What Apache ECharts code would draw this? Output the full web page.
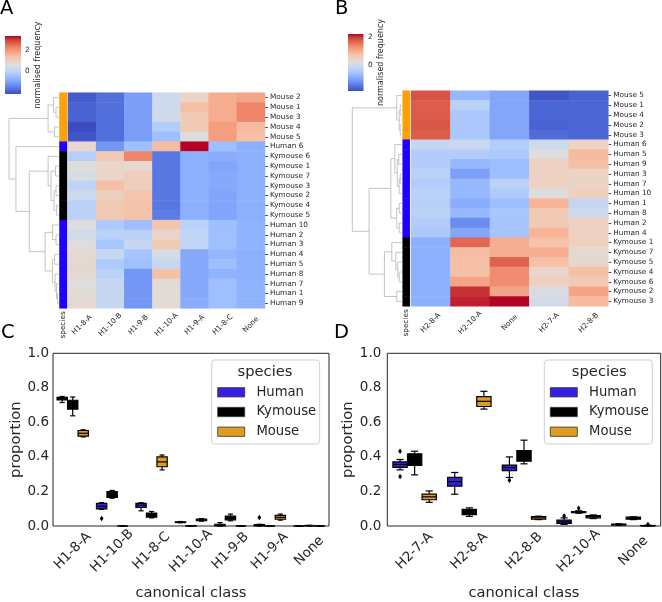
<!DOCTYPE html>
<html><head><meta charset="utf-8">
<script src="https://cdn.jsdelivr.net/npm/echarts@6/dist/echarts.min.js"></script>
<style>html,body{margin:0;padding:0;background:#fff}#c{width:662px;height:602px}</style>
</head><body><div id="c"></div>
<script>
// ---------------- DATA ----------------
const colsA = ["H1-8-A","H1-10-B","H1-9-B","H1-10-A","H1-9-A","H1-8-C","None"];
const rowsA = ["Mouse 2","Mouse 1","Mouse 3","Mouse 4","Mouse 5","Human 6","Kymouse 6","Kymouse 1","Kymouse 7","Kymouse 3","Kymouse 2","Kymouse 4","Kymouse 5","Human 10","Human 2","Human 3","Human 4","Human 5","Human 8","Human 7","Human 1","Human 9"];
const valuesA = [
  [-2.02,-1.75,-1.09, 0.24, 0.90, 1.67, 1.78],
  [-1.91,-1.75,-1.09, 0.24, 1.34, 1.67, 2.23],
  [-1.91,-1.75,-1.09, 0.29, 1.12, 1.67, 2.23],
  [-2.19,-1.75,-1.09,-0.20, 1.12, 1.89, 1.45],
  [-2.08,-1.75,-1.09,-0.53, 0.57, 1.89, 1.34],
  [ 0.79,-1.20,-0.53, 1.40, 3.33,-0.53,-0.81],
  [-0.15, 1.12, 2.23,-1.64,-0.81,-0.87,-0.81],
  [ 0.57, 0.85, 0.74,-1.64,-0.81,-0.98,-0.81],
  [ 0.46, 0.85, 1.01,-1.64,-0.81,-0.92,-0.81],
  [ 0.02, 1.34, 1.01,-1.64,-0.81,-0.92,-0.81],
  [ 0.24, 1.01, 1.23,-1.64,-0.81,-0.98,-0.81],
  [-0.09, 1.12, 1.29,-1.64,-0.81,-0.98,-0.81],
  [-0.09, 1.12, 1.29,-1.58,-0.81,-0.98,-0.81],
  [ 0.57,-0.26,-0.53, 1.23,-0.09,-0.53,-0.76],
  [ 0.35,-0.09,-0.09, 0.85, 0.02,-0.53,-0.76],
  [ 0.57,-0.37, 0.13, 1.12, 0.02,-0.53,-0.76],
  [ 0.74, 0.13,-0.42, 0.40,-0.92,-0.70,-0.81],
  [ 0.74,-0.26,-0.53, 0.13,-0.92,-0.53,-0.81],
  [ 0.74,-0.09,-1.20, 1.34,-0.92,-0.76,-0.81],
  [ 0.57, 0.13,-1.20, 0.68,-0.92,-0.53,-0.76],
  [ 0.68, 0.13,-1.20, 0.68,-0.92,-0.53,-0.76],
  [ 0.74, 0.13,-1.20, 0.68,-0.87,-0.53,-0.76]
];
const rangeA = [-2.19, 3.33];
const treeA = [
  [["Mouse 2", ["Mouse 1", "Mouse 3", 0.05], 0.10], ["Mouse 4", "Mouse 5", 0.08], 0.21],
  ["Human 6",
    [
      ["Kymouse 6", [["Kymouse 1", "Kymouse 7", 0.06], [["Kymouse 3", "Kymouse 2", 0.05], ["Kymouse 4", "Kymouse 5", 0.04], 0.09], 0.15], 0.21],
      [["Human 10", ["Human 2", "Human 3", 0.05], 0.12], [["Human 4", "Human 5", 0.08], ["Human 8", ["Human 7", ["Human 1", "Human 9", 0.02], 0.04], 0.07], 0.12], 0.27],
      0.59],
    0.86],
  1.0];

const colsB = ["H2-8-A","H2-10-A","None","H2-7-A","H2-8-B"];
const rowsB = ["Mouse 5","Mouse 1","Mouse 4","Mouse 2","Mouse 3","Human 6","Human 5","Human 9","Human 3","Human 7","Human 10","Human 1","Human 8","Human 2","Human 4","Kymouse 1","Kymouse 7","Kymouse 5","Kymouse 4","Kymouse 6","Kymouse 2","Kymouse 3"];
const valuesB = [
  [ 1.83,-0.70,-0.94,-1.76,-1.64],
  [ 1.75,-0.29,-0.94,-1.60,-1.60],
  [ 1.75,-0.45,-0.94,-1.60,-1.60],
  [ 1.79,-0.45,-0.94,-1.64,-1.60],
  [ 1.75,-0.45,-0.94,-1.55,-1.60],
  [-0.13,-0.09,-0.37,-0.04, 0.44],
  [-0.37,-0.37,-0.45, 0.20, 0.85],
  [-0.37,-0.70,-0.62, 0.49, 0.77],
  [-0.29,-1.02,-0.62, 0.49, 0.44],
  [-0.37,-0.70,-0.29, 0.49, 0.44],
  [-0.29,-0.70,-0.41, 0.20, 0.53],
  [-0.33,-0.86,-0.62, 0.93,-0.13],
  [-0.29,-0.70,-0.49, 0.61,-0.04],
  [-0.37,-1.23,-0.53, 0.61, 0.49],
  [-0.45,-0.94,-0.53, 0.93, 0.49],
  [-0.82, 1.67, 1.02, 0.73, 0.53],
  [-0.82, 0.81, 1.02, 1.02, 0.32],
  [-0.82, 0.77, 1.71, 0.77, 0.36],
  [-0.82, 0.77, 1.34, 0.40, 0.77],
  [-0.82, 1.10, 1.34, 0.53, 0.61],
  [-0.82, 2.04, 1.10, 0.12, 1.10],
  [-0.82, 2.12, 2.24, 0.04, 0.85]
];
const rangeB = [-1.84, 2.24];
const treeB = [
  ["Mouse 5", [["Mouse 1", "Mouse 4", 0.03], ["Mouse 2", "Mouse 3", 0.03], 0.05], 0.10],
  [
    [["Human 6", [["Human 5", "Human 9", 0.06], [["Human 3", "Human 7", 0.03], "Human 10", 0.05], 0.09], 0.14],
     [["Human 1", "Human 8", 0.05], ["Human 2", "Human 4", 0.05], 0.10], 0.22],
    [["Kymouse 1", ["Kymouse 7", ["Kymouse 5", ["Kymouse 4", "Kymouse 6", 0.05], 0.08], 0.12], 0.20], ["Kymouse 2", "Kymouse 3", 0.10], 0.35],
    0.66],
  1.0];

const speciesNames = ["Human","Kymouse","Mouse"];
const colorbarTicks = [0, 2];

// box stats: [min, q1, median, q3, max]
const catsC = ["H1-8-A","H1-10-B","H1-8-C","H1-10-A","H1-9-B","H1-9-A","None"];
const humanC = [[0.715,0.730,0.738,0.745,0.750],[0.096,0.099,0.114,0.131,0.135],[0.088,0.107,0.120,0.131,0.135],[0.019,0.020,0.022,0.024,0.026],[0.000,0.001,0.004,0.010,0.020],[0.000,0.001,0.003,0.008,0.010],[0,0,0,0,0]];
const kymouseC = [[0.638,0.677,0.700,0.728,0.747],[0.161,0.165,0.182,0.199,0.206],[0.047,0.051,0.062,0.075,0.084],[0,0,0.001,0.001,0.002],[0.030,0.036,0.047,0.058,0.069],[0,0,0,0,0],[0,0.001,0.002,0.003,0.004]];
const mouseC = [[0.516,0.520,0.537,0.553,0.557],[0,0,0,0,0],[0.325,0.343,0.371,0.400,0.411],[0.028,0.031,0.036,0.040,0.043],[0,0,0,0,0],[0.034,0.039,0.050,0.062,0.069],[0,0,0,0,0]];
const outliersC = [["H1-10-B","Human",0.043],["H1-9-A","Human",0.049]];

const catsD = ["H2-7-A","H2-8-A","H2-8-B","H2-10-A","None"];
const humanD = [[0.325,0.340,0.356,0.371,0.385],[0.184,0.231,0.257,0.281,0.310],[0.281,0.321,0.338,0.353,0.400],[0.009,0.015,0.024,0.034,0.047],[0.004,0.006,0.008,0.011,0.013]];
const kymouseD = [[0.296,0.351,0.385,0.418,0.433],[0.056,0.066,0.081,0.096,0.105],[0.360,0.375,0.400,0.437,0.497],[0.074,0.077,0.080,0.084,0.088],[0.037,0.039,0.045,0.051,0.053]];
const mouseD = [[0.137,0.152,0.169,0.184,0.203],[0.677,0.692,0.722,0.749,0.780],[0.037,0.039,0.047,0.054,0.057],[0.043,0.047,0.054,0.060,0.064],[0,0.001,0.002,0.003,0.004]];
const outliersD = [["H2-7-A","Human",0.433],["H2-7-A","Human",0.287],["H2-8-B","Human",0.265],["H2-10-A","Human",0.058],["H2-10-A","Kymouse",0.103],["None","Mouse",0.009]];

// ---------------- STYLE ----------------
const FONT = 'DejaVu Sans';
const TXT = '#262626';
const coolwarm = ['#3b4cc0','#4d68d7','#6282ea','#779af7','#8db0fe','#a3c2ff','#b8d0f9','#ccd9ee','#dddddd','#ecd3c5','#f5c4ac','#f7b194','#f49a7b','#ec7f63','#de604d','#cb3e38','#b40426'];
const speciesColor = ['#1e00ff','#000000','#ffa000'];
const boxFill = ['#3620df','#000000','#df9c20'];

const speciesIdx = r => speciesNames.findIndex(s => r.startsWith(s));

function dendroLines(tree, rows) {
  const idx = {}; rows.forEach((r,i)=>idx[r]=i);
  const out = [];
  (function walk(n){
    if (typeof n === 'string') return {y: idx[n], h: 0};
    const a = walk(n[0]), b = walk(n[1]), h = n[2];
    out.push({coords: [[a.h, a.y],[h, a.y],[h, b.y],[b.h, b.y]]});
    return {y: (a.y + b.y)/2, h};
  })(tree);
  return out;
}
function heatData(values){ const d=[]; values.forEach((row,r)=>row.forEach((v,c)=>d.push([c,r,v]))); return d; }
function colorbarSeries(gi, range){
  const stops = coolwarm.map((c,i)=>({offset:i/(coolwarm.length-1), color:c}));
  return {type:'custom', xAxisIndex:gi, yAxisIndex:gi, silent:true, data:[[0, range[0], 1, range[1]]],
    renderItem(p, api){
      const a = api.coord([api.value(0), api.value(3)]);
      const b = api.coord([api.value(2), api.value(1)]);
      return {type:'rect', shape:{x:a[0], y:a[1], width:b[0]-a[0], height:b[1]-a[1]},
        style:{fill:new echarts.graphic.LinearGradient(0,1,0,0,stops)}};
    }};
}
function boxSeries(hue, stats, gi){
  return {type:'custom', name:speciesNames[hue], xAxisIndex:gi, yAxisIndex:gi, silent:true,
    itemStyle:{color:boxFill[hue], borderColor:'#000'},
    data: stats.map((s,i)=>[i].concat(s)), encode:{x:0, y:[1,2,3,4,5]},
    renderItem(p, api){
      const i = api.value(0);
      const band = api.size([1,0],[i,0])[0];
      const step = band*0.8/3;
      const cx = api.coord([i,0])[0] + (hue-1)*step;
      const hw = step*0.98/2;
      const y = k => api.coord([i, api.value(k)])[1];
      const mn=y(1), q1=y(2), md=y(3), q3=y(4), mx=y(5);
      const ln = {stroke:'#000', lineWidth:1.2};
      return {type:'group', children:[
        {type:'line', shape:{x1:cx,y1:q1,x2:cx,y2:mn}, style:ln},
        {type:'line', shape:{x1:cx,y1:q3,x2:cx,y2:mx}, style:ln},
        {type:'line', shape:{x1:cx-hw/2,y1:mn,x2:cx+hw/2,y2:mn}, style:ln},
        {type:'line', shape:{x1:cx-hw/2,y1:mx,x2:cx+hw/2,y2:mx}, style:ln},
        {type:'rect', shape:{x:cx-hw,y:q3,width:2*hw,height:q1-q3}, style:{fill:boxFill[hue], stroke:'#000', lineWidth:1.2}},
        {type:'line', shape:{x1:cx-hw,y1:md,x2:cx+hw,y2:md}, style:ln}
      ]};
    }};
}
function outlierSeries(list, cats, gi){
  return {type:'custom', name:'outliers', xAxisIndex:gi, yAxisIndex:gi, silent:true,
    data: list.map(o=>[cats.indexOf(o[0]), speciesNames.indexOf(o[1]), o[2]]), encode:{x:0, y:2},
    renderItem(p, api){
      const i = api.value(0), h = api.value(1);
      const band = api.size([1,0],[i,0])[0];
      const cx = api.coord([i,0])[0] + (h-1)*band*0.8/3;
      const cy = api.coord([i, api.value(2)])[1];
      return {type:'polygon', shape:{points:[[cx,cy-2.8],[cx+1.9,cy],[cx,cy+2.8],[cx-1.9,cy]]}, style:{fill:'#000'}};
    }};
}

// ---------------- LAYOUT ----------------
const H = 215.6;
const grids = [
  {left:9, top:92.7, width:49.5, height:H},      // 0 dendro A
  {left:59.5, top:92.7, width:7.5, height:H},    // 1 species A
  {left:68, top:92.7, width:197, height:H},      // 2 heat A
  {left:5, top:36, width:16, height:58},         // 3 cbar A
  {left:352.3, top:90.7, width:49.4, height:H},  // 4 dendro B
  {left:402.7, top:90.7, width:7, height:H},     // 5 species B
  {left:411, top:90.7, width:197.3, height:H},   // 6 heat B
  {left:348, top:34, width:15.5, height:57},     // 7 cbar B
  {left:53, top:353.3, width:276, height:177.7, show:true, borderColor:TXT, borderWidth:1},   // 8 box C
  {left:387.3, top:353.3, width:273.4, height:177.7, show:true, borderColor:TXT, borderWidth:1} // 9 box D
];
const smallLbl = {fontSize:7.3, color:TXT, fontFamily:FONT};
const hidden = (gi, extra) => Object.assign({gridIndex:gi, show:false}, extra);
function heatX(gi, cols){ return {gridIndex:gi, type:'category', data:cols, axisLine:{show:false}, axisTick:{show:false},
  axisLabel:Object.assign({rotate:45, align:'center', verticalAlign:'middle', margin:16.5, interval:0}, smallLbl)}; }
function heatY(gi, rows){ return {gridIndex:gi, type:'category', data:rows, inverse:true, position:'right',
  axisLine:{show:false}, axisTick:{show:true, alignWithLabel:true, length:3, lineStyle:{color:TXT, width:0.8}},
  axisLabel:Object.assign({margin:5, interval:0}, smallLbl)}; }
function speciesX(gi){ return {gridIndex:gi, type:'category', data:['species'], axisLine:{show:false}, axisTick:{show:false},
  axisLabel:Object.assign({rotate:90, margin:3}, smallLbl)}; }
function cbarY(gi, range, margin){ return {gridIndex:gi, type:'value', min:range[0], max:range[1], position:'right',
  axisLine:{show:false}, splitLine:{show:false},
  axisTick:{show:true, length:2.5, customValues:colorbarTicks, lineStyle:{color:TXT, width:0.8}},
  axisLabel:Object.assign({customValues:colorbarTicks, margin:margin}, smallLbl),
  name:'normalised frequency', nameLocation:'middle', nameRotate:90, nameGap:10,
  nameTextStyle:{fontSize:8, color:TXT, fontFamily:FONT}}; }
const tickLbl = {fontSize:13.5, color:TXT, fontFamily:FONT};
const axisName = {fontSize:14.7, color:TXT, fontFamily:FONT};
function boxX(gi, cats){ return {gridIndex:gi, type:'category', data:cats, axisLine:{show:false}, axisTick:{show:false},
  axisLabel:Object.assign({rotate:45, align:'center', verticalAlign:'middle', margin:25, interval:0}, tickLbl),
  name:'canonical class', nameLocation:'middle', nameGap:60, nameTextStyle:axisName}; }
function boxY(gi, gap, margin){ return {gridIndex:gi, type:'value', min:0, max:1, interval:0.2,
  axisLine:{show:false}, axisTick:{show:false}, splitLine:{show:false},
  axisLabel:Object.assign({margin:margin, formatter:v=>v.toFixed(1)}, tickLbl),
  name:'proportion', nameLocation:'middle', nameGap:gap, nameTextStyle:axisName}; }
function legendAt(left){ return {left:left, top:360, orient:'vertical', icon:'rect', itemWidth:27, itemHeight:9.3, itemGap:4.7,
  selectedMode:false, backgroundColor:'#fff', borderColor:'#d0d0d0', borderWidth:1, borderRadius:3,
  padding:[24.8, 3.5, 4.8, 5.6],
  textStyle:{fontSize:13.2, color:TXT, fontFamily:FONT, lineHeight:15, padding:[0,0,0,6.7]},
  data: speciesNames.map((n,i)=>({name:n, itemStyle:{color:boxFill[i], borderColor:'#333', borderWidth:0.8}}))}; }

const option = {
  animation:false,
  textStyle:{fontFamily:FONT},
  grid: grids,
  xAxis: [
    hidden(0,{type:'value', min:0, max:1, inverse:true}),
    speciesX(1), heatX(2, colsA),
    hidden(3,{type:'value', min:0, max:1}),
    hidden(4,{type:'value', min:0, max:1, inverse:true}),
    speciesX(5), heatX(6, colsB),
    hidden(7,{type:'value', min:0, max:1}),
    boxX(8, catsC), boxX(9, catsD)
  ],
  yAxis: [
    hidden(0,{type:'value', min:-0.5, max:rowsA.length-0.5, inverse:true}),
    hidden(1,{type:'category', data:rowsA, inverse:true}),
    heatY(2, rowsA),
    cbarY(3, rangeA, 4),
    hidden(4,{type:'value', min:-0.5, max:rowsB.length-0.5, inverse:true}),
    hidden(5,{type:'category', data:rowsB, inverse:true}),
    heatY(6, rowsB),
    cbarY(7, rangeB, 4.5),
    boxY(8, 25, 4), boxY(9, 27.5, 6)
  ],
  visualMap: [
    {type:'continuous', show:false, seriesIndex:2, min:rangeA[0], max:rangeA[1], inRange:{color:coolwarm}},
    {type:'continuous', show:false, seriesIndex:6, min:rangeB[0], max:rangeB[1], inRange:{color:coolwarm}},
    {type:'piecewise', show:false, seriesIndex:[1,5], dimension:2,
      pieces: speciesColor.map((c,i)=>({value:i, color:c}))}
  ],
  legend: [legendAt(211.7), legendAt(544.3)],
  series: [
    {type:'lines', coordinateSystem:'cartesian2d', xAxisIndex:0, yAxisIndex:0, polyline:true, silent:true,
      lineStyle:{color:'#bdbdbd', width:0.9, opacity:1}, data:dendroLines(treeA, rowsA)},
    {type:'heatmap', xAxisIndex:1, yAxisIndex:1, silent:true, data:rowsA.map((r,i)=>[0,i,speciesIdx(r)])},
    {type:'heatmap', xAxisIndex:2, yAxisIndex:2, silent:true, data:heatData(valuesA)},
    colorbarSeries(3, rangeA),
    {type:'lines', coordinateSystem:'cartesian2d', xAxisIndex:4, yAxisIndex:4, polyline:true, silent:true,
      lineStyle:{color:'#bdbdbd', width:0.9, opacity:1}, data:dendroLines(treeB, rowsB)},
    {type:'heatmap', xAxisIndex:5, yAxisIndex:5, silent:true, data:rowsB.map((r,i)=>[0,i,speciesIdx(r)])},
    {type:'heatmap', xAxisIndex:6, yAxisIndex:6, silent:true, data:heatData(valuesB)},
    colorbarSeries(7, rangeB),
    boxSeries(0, humanC, 8), boxSeries(1, kymouseC, 8), boxSeries(2, mouseC, 8), outlierSeries(outliersC, catsC, 8),
    boxSeries(0, humanD, 9), boxSeries(1, kymouseD, 9), boxSeries(2, mouseD, 9), outlierSeries(outliersD, catsD, 9)
  ],
  graphic: [
    {type:'text', z:100, style:{x:0, y:9, text:'A', fontSize:19.5, fontFamily:FONT, fill:'#000', textVerticalAlign:'middle'}},
    {type:'text', z:100, style:{x:335, y:9, text:'B', fontSize:19.5, fontFamily:FONT, fill:'#000', textVerticalAlign:'middle'}},
    {type:'text', z:100, style:{x:1, y:333, text:'C', fontSize:19.5, fontFamily:FONT, fill:'#000', textVerticalAlign:'middle'}},
    {type:'text', z:100, style:{x:334, y:333, text:'D', fontSize:19.5, fontFamily:FONT, fill:'#000', textVerticalAlign:'middle'}},
    {type:'text', z:100, style:{x:265, y:372.3, text:'species', fontSize:14.7, fontFamily:FONT, fill:TXT, textAlign:'center', textVerticalAlign:'middle'}},
    {type:'text', z:100, style:{x:599.3, y:372.3, text:'species', fontSize:14.7, fontFamily:FONT, fill:TXT, textAlign:'center', textVerticalAlign:'middle'}}
  ]
};
const chart = echarts.init(document.getElementById('c'), null, {renderer:'canvas'});
chart.setOption(option);
</script></body></html>
